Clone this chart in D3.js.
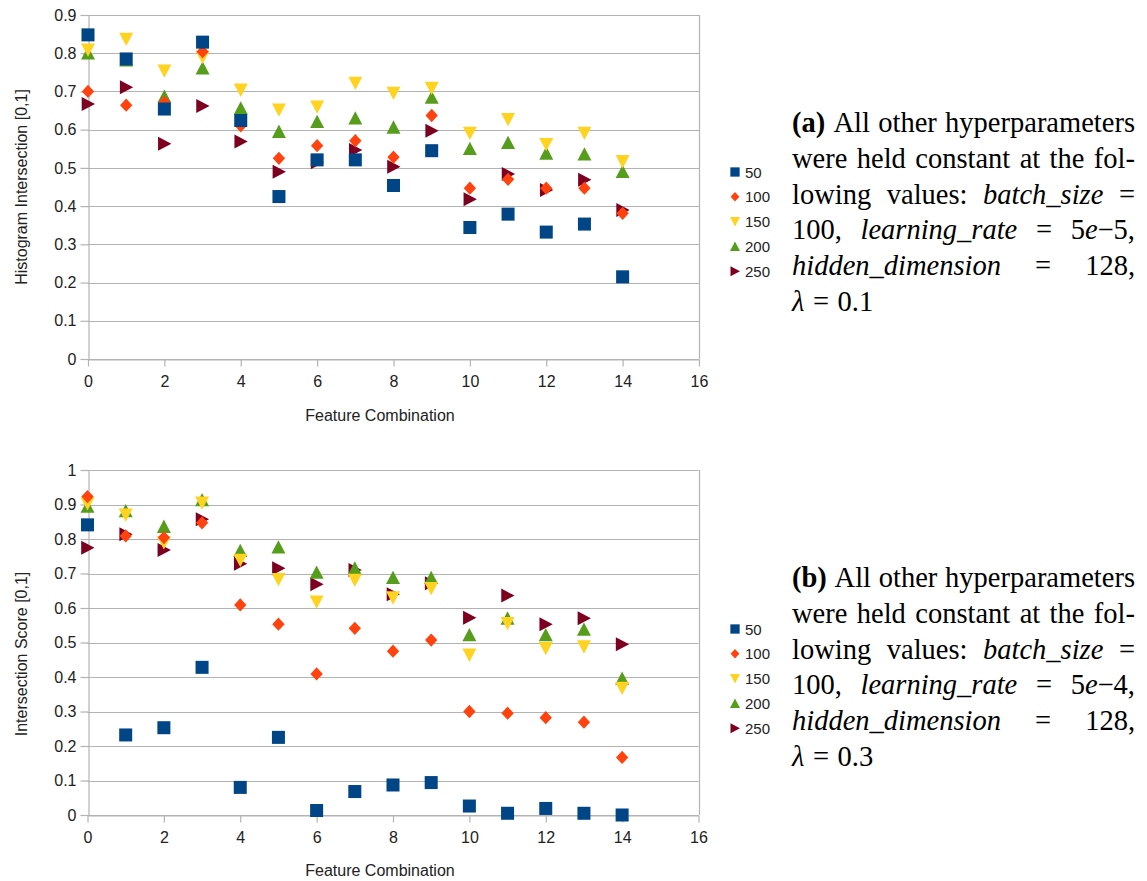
<!DOCTYPE html>
<html><head><meta charset="utf-8">
<script src="https://cdn.jsdelivr.net/npm/d3@7"></script>
<style>
html,body{margin:0;padding:0;background:#fff;}
svg{display:block;}
</style></head>
<body>
<svg id="chart" width="1147" height="881"></svg>
<script>
// ---- data ----
const featureIdx = [0,1,2,3,4,5,6,7,8,9,10,11,12,13,14];
const seriesNames = ["50","100","150","200","250"];
const xTicks = [0,2,4,6,8,10,12,14,16];
const yTicksA = [0,0.1,0.2,0.3,0.4,0.5,0.6,0.7,0.8,0.9];
const yTicksB = [0,0.1,0.2,0.3,0.4,0.5,0.6,0.7,0.8,0.9,1];

// (a) Histogram Intersection
const a50  = [0.848,0.785,0.654,0.829,0.624,0.425,0.521,0.521,0.454,0.545,0.344,0.379,0.332,0.353,0.215];
const a100 = [0.700,0.664,0.672,0.804,0.610,0.525,0.558,0.571,0.528,0.637,0.447,0.470,0.447,0.447,0.381];
const a150 = [0.809,0.837,0.754,0.790,0.704,0.652,0.660,0.722,0.696,0.709,0.591,0.627,0.562,0.591,0.517];
const a200 = [0.800,0.782,0.687,0.761,0.656,0.595,0.621,0.630,0.606,0.684,0.550,0.566,0.538,0.536,0.490];
const a250 = [0.667,0.711,0.563,0.662,0.569,0.490,0.515,0.547,0.503,0.597,0.418,0.484,0.442,0.469,0.390];

// (b) Intersection Score
const b50  = [0.841,0.232,0.253,0.428,0.080,0.225,0.013,0.068,0.087,0.094,0.026,0.005,0.019,0.005,0.000];
const b100 = [0.923,0.809,0.804,0.847,0.609,0.553,0.409,0.541,0.475,0.507,0.300,0.295,0.282,0.269,0.167];
const b150 = [0.903,0.870,0.790,0.905,0.739,0.683,0.618,0.681,0.630,0.657,0.464,0.556,0.483,0.488,0.368];
const b200 = [0.894,0.881,0.836,0.913,0.766,0.776,0.703,0.715,0.688,0.688,0.522,0.570,0.522,0.538,0.396];
const b250 = [0.775,0.814,0.768,0.857,0.728,0.715,0.669,0.710,0.640,0.672,0.572,0.636,0.553,0.570,0.495];

const colors = ["#004586","#ff420e","#ffd320","#579d1c","#7e0021"];
const shapes = ["square","diamond","down","up","right"];

// ---- helpers ----
function shapePath(type, s){
  const h = s/2;
  switch(type){
    case "square": { const q = h*0.93; return `M${-q},${-q}H${q}V${q}H${-q}Z`; }
    case "diamond": { const w = h*0.88, v = h*0.95; return `M0,${-v}L${w},0L0,${v}L${-w},0Z`; }
    case "up": return `M0,${-h}L${h},${h*0.9}L${-h},${h*0.9}Z`;
    case "down": return `M${-h},${-h*0.9}L${h},${-h*0.9}L0,${h}Z`;
    case "right": return `M${-h*0.9},${-h}L${h},0L${-h*0.9},${h}Z`;
  }
}

const svg = d3.select("#chart");
const axisFont = "'Liberation Sans', Arial, sans-serif";
const textCol = "#222";
const gridCol = "#b3b3b3";

function drawChart(cfg){
  const g = svg.append("g");
  const x = d3.scaleLinear().domain([0,16]).range([cfg.left, cfg.right]);
  const y = d3.scaleLinear().domain([0,cfg.ymax]).range([cfg.bottom, cfg.top]);

  // grid
  g.append("g").selectAll("line").data(cfg.yTicks).join("line")
    .attr("x1", x(0)).attr("x2", x(16))
    .attr("y1", d=>Math.round(y(d))+0.5).attr("y2", d=>Math.round(y(d))+0.5)
    .attr("stroke", gridCol).attr("stroke-width",1.2);
  // right border
  g.append("line").attr("x1", Math.round(x(16))+0.5).attr("x2", Math.round(x(16))+0.5)
    .attr("y1", y(cfg.ymax)).attr("y2", y(0)).attr("stroke", gridCol).attr("stroke-width",1.2);

  // axes
  const yAxis = d3.axisLeft(y).tickValues(cfg.yTicks).tickFormat(d=>d3.format("~g")(d)).tickSizeOuter(0).tickSizeInner(8).tickPadding(4);
  const ya = g.append("g").attr("transform", `translate(${Math.round(x(0))+0.5},0)`).call(yAxis);
  const xAxis = d3.axisBottom(x).tickValues(xTicks).tickFormat(d3.format("d")).tickSizeOuter(0).tickSizeInner(7).tickPadding(9);
  const xa = g.append("g").attr("transform", `translate(0,${Math.round(y(0))+0.5})`).call(xAxis);
  [ya, xa].forEach(a=>{
    a.select(".domain").attr("stroke", gridCol).attr("stroke-width",1.2);
    a.selectAll(".tick line").attr("stroke", gridCol).attr("stroke-width",1.2);
    a.selectAll(".tick text").attr("font-family", axisFont).attr("font-size", 16).attr("fill", textCol);
  });

  // axis titles
  g.append("text").attr("x", cfg.xTitleX).attr("y", cfg.xTitleY).attr("text-anchor","middle")
    .attr("font-family", axisFont).attr("font-size",16).attr("fill", textCol).text("Feature Combination");
  g.append("text").attr("transform", `translate(${cfg.yTitleX},${cfg.yTitleY}) rotate(-90)`).attr("text-anchor","middle")
    .attr("font-family", axisFont).attr("font-size",16).attr("fill", textCol).text(cfg.yTitle);

  // points, drawn in reverse series order (first series on top)
  for(let si = cfg.series.length-1; si>=0; si--){
    g.append("g").selectAll("path").data(cfg.series[si]).join("path")
      .attr("d", shapePath(shapes[si], 14))
      .attr("transform", (d,i)=>`translate(${x(featureIdx[i])},${y(d)})`)
      .attr("fill", colors[si]);
  }

  // legend
  const lg = g.append("g");
  seriesNames.forEach((name, si)=>{
    const ly = cfg.legendY + si*24.8;
    lg.append("path").attr("d", shapePath(shapes[si], 10)).attr("transform", `translate(${cfg.legendX},${ly})`).attr("fill", colors[si]);
    lg.append("text").attr("x", cfg.legendX+10).attr("y", ly+5.5).attr("font-family", axisFont).attr("font-size",15).attr("fill", textCol).text(name);
  });
}

drawChart({
  left:88, right:699, top:15, bottom:359, ymax:0.9, yTicks:yTicksA,
  series:[a50,a100,a150,a200,a250],
  yTitle:"Histogram Intersection [0,1]", yTitleX:27, yTitleY:187,
  xTitleX:380, xTitleY:421, legendX:735, legendY:172
});
drawChart({
  left:87.5, right:698.5, top:470, bottom:815, ymax:1.0, yTicks:yTicksB,
  series:[b50,b100,b150,b200,b250],
  yTitle:"Intersection Score [0,1]", yTitleX:27, yTitleY:654,
  xTitleX:380, xTitleY:876, legendX:735, legendY:629
});

// ---- captions (justified, LaTeX-like) ----
const serif = "'Liberation Serif', 'Times New Roman', serif";
const capSize = 28.5;
function captionLines(lr, lam){
  return [
    [[["(a)".replace("a",lr),"b"]],[["All",""]],[["other",""]],[["hyperparameters",""]]],
    [[["were",""]],[["held",""]],[["constant",""]],[["at",""]],[["the",""]],[["fol-",""]]],
    [[["lowing",""]],[["values:",""]],[["batch_size","i"]],[["=",""]]],
    [[["100,",""]],[["learning_rate","i"]],[["=",""]],[["5",""],["e","i"],["\u2212"+lam.rate+",",""]]],
    [[["hidden_dimension","i"]],[["=",""]],[["128,",""]]],
    [[["\u03bb","i"]],[["=",""]],[["0."+lam.l,""]]]
  ];
}
function drawCaption(lines, x0, x1, baseY, lh){
  lines.forEach((tokens, li)=>{
    const yy = baseY + li*lh;
    const els = tokens.map(tok=>{
      const t = svg.append("text").attr("y", yy).attr("font-family", serif).attr("font-size", capSize).attr("fill","#000");
      tok.forEach(([s, st])=>{
        const sp = t.append("tspan").text(s);
        if(st==="b") sp.attr("font-weight","bold");
        if(st==="i") sp.attr("font-style","italic");
      });
      return t;
    });
    const widths = els.map(e=>e.node().getComputedTextLength());
    const total = d3.sum(widths);
    const last = li === lines.length-1;
    const gap = last ? capSize*0.3 : (x1 - x0 - total)/(els.length-1);
    let cx = x0;
    els.forEach((e,i)=>{ e.attr("x", cx); cx += widths[i] + gap; });
  });
}
drawCaption(captionLines("a",{rate:"5",l:"1"}), 792, 1135, 132, 35.8);
drawCaption(captionLines("b",{rate:"4",l:"3"}), 792, 1135, 587, 35.8);
</script>
</body></html>
